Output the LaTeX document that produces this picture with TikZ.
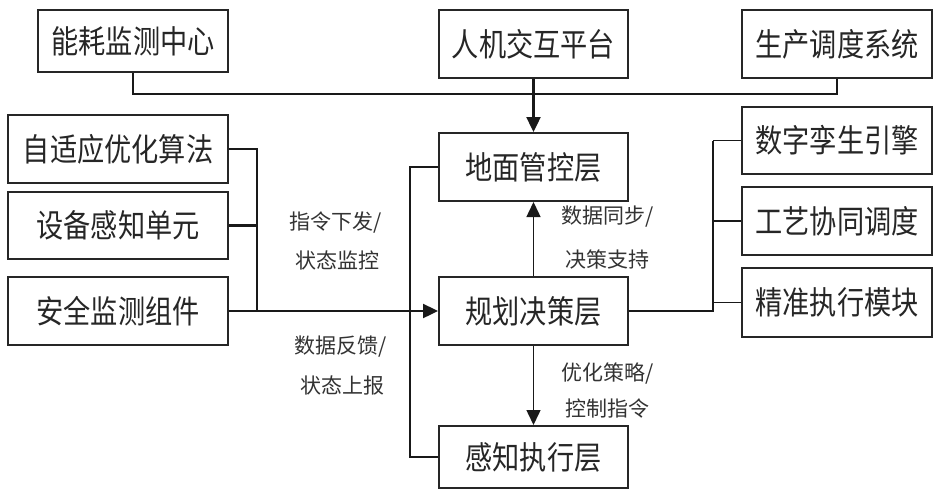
\documentclass[tikz,border=0pt]{standalone}
\usepackage{fontspec}
\newfontfamily\cjkbox[FakeStretch=0.85]{Noto Sans CJK SC}
\newfontfamily\cjklab{Noto Sans CJK SC}
\usetikzlibrary{arrows.meta}
\begin{document}
\begin{tikzpicture}[x=1pt,y=-1pt,
  box/.style={draw=black!85,line width=2pt,inner sep=0pt,text=black!85,font=\cjkbox\fontsize{32}{36}\selectfont},
  lab/.style={inner sep=0pt,font=\cjklab\fontsize{21}{24}\selectfont,text=black!80},
  thickln/.style={line width=2.4pt,black!90},
  thinln/.style={line width=1.5pt,black!90},
  tip/.style={-{Triangle[length=15pt,width=14pt]}}]
\useasboundingbox (0,0) rectangle (940,496);
% boxes
\node[box,minimum width=190pt,minimum height=62pt] (nh) at (133,41) {能耗监测中心};
\node[box,minimum width=189pt,minimum height=68pt] (rj) at (533.5,44) {人机交互平台};
\node[box,minimum width=190pt,minimum height=68pt] (sc) at (837,44) {生产调度系统};
\node[box,minimum width=220pt,minimum height=68pt] (zsy) at (118,149) {自适应优化算法};
\node[box,minimum width=220pt,minimum height=67pt] (sb) at (118,225.5) {设备感知单元};
\node[box,minimum width=220pt,minimum height=68pt] (aq) at (118,311) {安全监测组件};
\node[box,minimum width=189pt,minimum height=68pt] (dm) at (533.5,167) {地面管控层};
\node[box,minimum width=189pt,minimum height=68pt] (gh) at (533.5,311) {规划决策层};
\node[box,minimum width=189pt,minimum height=62pt] (gz) at (533.5,457) {感知执行层};
\node[box,minimum width=190pt,minimum height=67pt] (sz) at (837,140.5) {数字孪生引擎};
\node[box,minimum width=190pt,minimum height=68pt] (gy) at (837,221) {工艺协同调度};
\node[box,minimum width=190pt,minimum height=69pt] (jz) at (837,302.5) {精准执行模块};
% helper coordinates
\coordinate (bus) at (0,94);
\coordinate (lj) at (257,0);
\coordinate (lv) at (410,0);
\coordinate (rv) at (713,0);
% top bus
\draw[thickln] (nh.south) |- (sc.south |- bus) -- (sc.south);
\draw[thickln,tip] (rj.south) -- (dm.north);
% left group
\draw[thickln] (zsy.east) -| (lj |- aq.east);
\draw[thickln] (sb.east) -- (lj |- sb.east);
\draw[thickln,tip] (aq.east) -- (gh.west);
% feedback line
\draw[thinln] (dm.west) -| (lv |- gz.west) -- (gz.west);
% vertical arrows
\draw[thinln,tip] (gh.north) -- (dm.south);
\draw[thinln,tip] (gh.south) -- (gz.north);
% right group
\draw[thickln] (gh.east) -| (rv |- sz.west);
\draw[thinln] (rv |- sz.west) -- (sz.west);
\draw[thinln] (rv |- gy.west) -- (gy.west);
\draw[thinln] (rv |- jz.west) -- (jz.west);
% labels
\node[lab] (l1) at (336,223) {指令下发/};
\node[lab] (l2) at (337,260) {状态监控};
\node[lab] (l3) at (341,347) {数据反馈/};
\node[lab] (l4) at (342,385) {状态上报};
\node[lab] (l5) at (608,217) {数据同步/};
\node[lab] (l6) at (607,259) {决策支持};
\node[lab] (l7) at (608,374) {优化策略/};
\node[lab] (l8) at (607,409) {控制指令};
\end{tikzpicture}
\end{document}
